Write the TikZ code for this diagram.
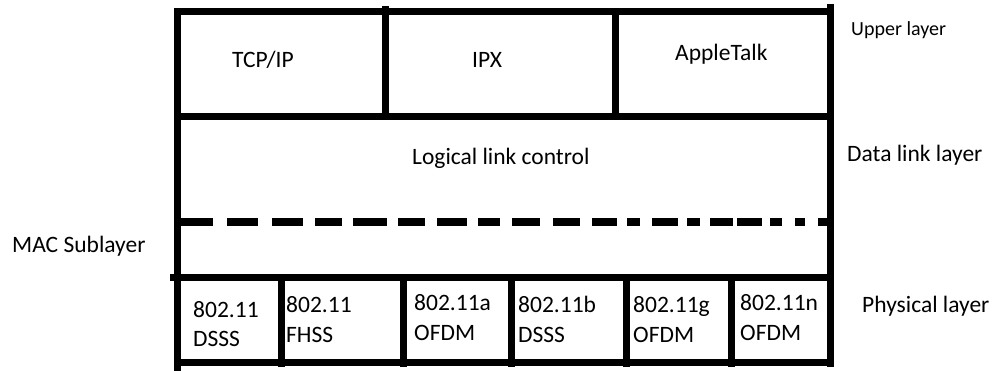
\documentclass[tikz,border=0pt]{standalone}
\usepackage{fontspec}
\setmainfont{Carlito}
\begin{document}
\begin{tikzpicture}[x=1pt,y=-1pt,
  thick line/.style={line width=7pt},
  lbl/.style={anchor=base west,inner sep=0pt,font=\fontsize{23.5}{28}\selectfont,text=black},
  smalllbl/.style={lbl,font=\fontsize{20}{24}\selectfont}]
\useasboundingbox (0,0) rectangle (1003,371);
% frame
\draw[thick line] (177,9) -- (177,371);
\draw[thick line] (830,4) -- (830,367);
\draw[thick line] (174,12) -- (833,12);
\draw[thick line] (174,117) -- (833,117);
\draw[thick line] (385,6) -- (385,117);
\draw[thick line] (615,12) -- (615,117);
\draw[thick line] (170,277) -- (833,277);
\draw[thick line] (174,362) -- (833,362);
\foreach \x in {281,403,511,626,731}
  \draw[thick line] (\x,277) -- (\x,367);
% dashed separator
\foreach \a/\b in {177/213,227/258,272/303,315/342,353/387,398/425,437/467,478/500,512/540,553/580,592/617,627/640,652/678,687/700,710/733,737/762,770/782,795/805,818/830}
  \draw[line width=8pt] (\a,222) -- (\b,222);
% upper layer texts
\node[lbl] (tcp) at (232,68) {TCP/IP};
\node[lbl] (ipx) at (472,68) {IPX};
\node[lbl] (apple) at (675,61) {AppleTalk};
\node[lbl] (llc) at (412,165) {Logical link control};
% side labels
\node[smalllbl] (upper) at (851,36) {Upper layer};
\node[lbl] (dll) at (847,162) {Data link layer};
\node[lbl] (phy) at (862,312) {Physical layer};
\node[lbl] (mac) at (12,252) {MAC Sublayer};
% physical boxes
\node[lbl] (p1a) at (193,317) {802.11};
\node[lbl] (p1b) at (193,346) {DSSS};
\node[lbl] (p2a) at (286,312) {802.11};
\node[lbl] (p2b) at (286,342) {FHSS};
\node[lbl] (p3a) at (414,310) {802.11a};
\node[lbl] (p3b) at (414,340) {OFDM};
\node[lbl] (p4a) at (518,312) {802.11b};
\node[lbl] (p4b) at (518,342) {DSSS};
\node[lbl] (p5a) at (633,312) {802.11g};
\node[lbl] (p5b) at (633,342) {OFDM};
\node[lbl] (p6a) at (740,310) {802.11n};
\node[lbl] (p6b) at (740,340) {OFDM};
\end{tikzpicture}
\end{document}
